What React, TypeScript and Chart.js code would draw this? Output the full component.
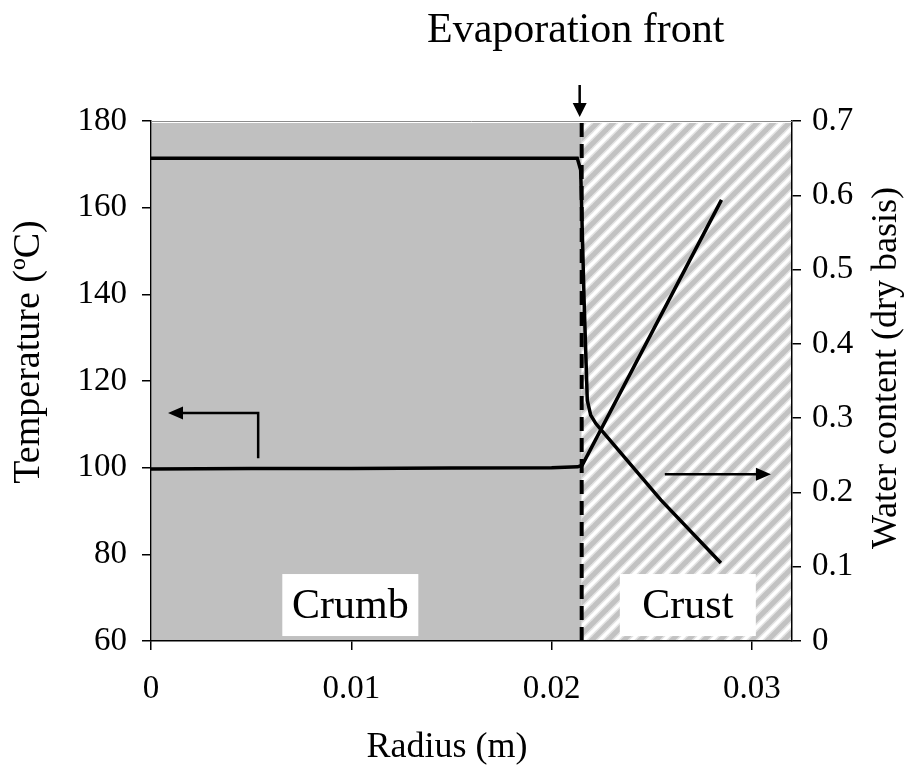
import React, { useEffect, useRef } from 'react';
import { Chart, registerables } from 'chart.js';

Chart.register(...registerables);

// ---- data ----
const radiusTemp = [0, 0.005, 0.01, 0.015, 0.02, 0.0213, 0.02153, 0.02848];
const temperature = [99.7, 99.8, 99.8, 99.9, 100.0, 100.2, 100.6, 161.8];

const radiusWater = [0, 0.02128, 0.02145, 0.02162, 0.02178, 0.02195, 0.0222, 0.02242, 0.02545, 0.02845];
const waterContent = [0.65, 0.65, 0.634, 0.459, 0.324, 0.304, 0.293, 0.286, 0.19, 0.105];

const frontRadius = 0.0215;

const xTickValues = [0, 0.01, 0.02, 0.03];
const xTickLabels = ['0', '0.01', '0.02', '0.03'];
const tempTickValues = [60, 80, 100, 120, 140, 160, 180];
const tempTickLabels = ['60', '80', '100', '120', '140', '160', '180'];
const waterTickValues = [0, 0.1, 0.2, 0.3, 0.4, 0.5, 0.6, 0.7];
const waterTickLabels = ['0', '0.1', '0.2', '0.3', '0.4', '0.5', '0.6', '0.7'];

// annotation arrows (data coordinates: radius, temperature)
const tempArrowRadius = [0.00535, 0.00535, 0.00085];
const tempArrowTemp = [102.2, 112.6, 112.6];
const waterArrowRadius = [0.02565, 0.03095];
const waterArrowTemp = [98.5, 98.5];

const regionLabels = ['Crumb', 'Crust'];
const regionLabelRadius = [0.00995, 0.0268];
const regionLabelTemp = [68.3, 68.3];

const FONT = '"Liberation Serif", "Times New Roman", serif';

function makeHatch(): CanvasPattern | string {
  const P = 16;
  const tile = document.createElement('canvas');
  tile.width = P;
  tile.height = P;
  const c = tile.getContext('2d');
  if (!c) return '#ddd';
  c.fillStyle = '#ffffff';
  c.fillRect(0, 0, P, P);
  const stripe = (w: number, col: string) => {
    c.strokeStyle = col;
    c.lineWidth = w;
    for (const o of [-P, 0, P]) {
      c.beginPath();
      c.moveTo(o - P, 2 * P);
      c.lineTo(o + 2 * P, -P);
      c.stroke();
    }
  };
  stripe(8, '#e3e3e3');
  stripe(5, '#c2c2c2');
  const ctx = document.createElement('canvas').getContext('2d');
  const pat = ctx ? ctx.createPattern(tile, 'repeat') : null;
  return pat || '#ddd';
}

function arrowHead(ctx: CanvasRenderingContext2D, x: number, y: number, dx: number, dy: number, len: number, half: number) {
  const L = Math.hypot(dx, dy) || 1;
  const ux = dx / L, uy = dy / L;
  ctx.beginPath();
  ctx.moveTo(x, y);
  ctx.lineTo(x - ux * len - uy * half, y - uy * len + ux * half);
  ctx.lineTo(x - ux * len + uy * half, y - uy * len - ux * half);
  ctx.closePath();
  ctx.fill();
}

export default function App() {
  const ref = useRef<HTMLCanvasElement | null>(null);

  useEffect(() => {
    document.body.style.margin = '0';
    const canvas = ref.current;
    if (!canvas) return;
    const hatch = makeHatch();

    const decor = {
      id: 'decor',
      beforeDatasetsDraw(chart: any) {
        const { ctx, chartArea: a, scales } = chart;
        const fx = scales.x.getPixelForValue(frontRadius);
        ctx.save();
        ctx.fillStyle = '#c0c0c0';
        ctx.fillRect(a.left + 1, a.top + 2, fx - a.left - 1, a.bottom - a.top - 3);
        ctx.fillStyle = hatch;
        ctx.fillRect(fx, a.top + 2, a.right - fx - 1, a.bottom - a.top - 3);
        ctx.strokeStyle = '#8c8c8c';
        ctx.lineWidth = 1;
        ctx.beginPath();
        ctx.moveTo(a.left, a.top + 0.5);
        ctx.lineTo(a.right, a.top + 0.5);
        ctx.stroke();
        ctx.restore();
      },
      afterDatasetsDraw(chart: any) {
        const { ctx, chartArea: a, scales } = chart;
        const X = (v: number) => scales.x.getPixelForValue(v);
        const Y = (v: number) => scales.y.getPixelForValue(v);
        ctx.save();
        ctx.strokeStyle = '#000';
        ctx.fillStyle = '#000';
        ctx.lineWidth = 2.5;
        ctx.lineCap = 'butt';

        // left (temperature) arrow
        const n = tempArrowRadius.length;
        ctx.beginPath();
        ctx.moveTo(X(tempArrowRadius[0]), Y(tempArrowTemp[0]));
        for (let i = 1; i < n - 1; i++) ctx.lineTo(X(tempArrowRadius[i]), Y(tempArrowTemp[i]));
        ctx.lineTo(X(tempArrowRadius[n - 1]) + 12, Y(tempArrowTemp[n - 1]));
        ctx.stroke();
        arrowHead(ctx, X(tempArrowRadius[n - 1]), Y(tempArrowTemp[n - 1]), -1, 0, 15, 6.5);

        // right (water) arrow
        ctx.beginPath();
        ctx.moveTo(X(waterArrowRadius[0]), Y(waterArrowTemp[0]));
        ctx.lineTo(X(waterArrowRadius[1]) - 12, Y(waterArrowTemp[1]));
        ctx.stroke();
        arrowHead(ctx, X(waterArrowRadius[1]), Y(waterArrowTemp[1]), 1, 0, 15, 6.5);

        // region label boxes
        ctx.font = `42px ${FONT}`;
        ctx.textAlign = 'center';
        ctx.textBaseline = 'middle';
        regionLabels.forEach((t, i) => {
          const cx = X(regionLabelRadius[i]);
          const cy = Y(regionLabelTemp[i]);
          ctx.fillStyle = '#fff';
          ctx.fillRect(cx - 68, cy - 31, 136, 62);
          ctx.fillStyle = '#000';
          ctx.fillText(t, cx, cy + 2);
        });

        // evaporation front arrow + label
        const fx = X(frontRadius) - 2;
        ctx.lineWidth = 2.5;
        ctx.beginPath();
        ctx.moveTo(fx, a.top - 36);
        ctx.lineTo(fx, a.top - 12);
        ctx.stroke();
        arrowHead(ctx, fx, a.top - 4, 0, 1, 14, 7);
        ctx.font = `42px ${FONT}`;
        ctx.textBaseline = 'alphabetic';
        ctx.fillText('Evaporation front', fx - 4, 42);

        // axis titles
        ctx.font = `36px ${FONT}`;
        ctx.textBaseline = 'middle';
        ctx.fillText('Radius (m)', 447, 748);
        ctx.save();
        ctx.font = `38px ${FONT}`;
        ctx.translate(29, 352);
        ctx.rotate(-Math.PI / 2);
        ctx.fillText('Temperature (ºC)', 0, 0);
        ctx.restore();
        ctx.save();
        ctx.translate(887, 368);
        ctx.rotate(-Math.PI / 2);
        ctx.fillText('Water content (dry basis)', 0, 0);
        ctx.restore();
        ctx.restore();
      },
    };

    const tickFont = { family: FONT, size: 33 };
    const chart = new Chart(canvas, {
      type: 'line',
      data: {
        datasets: [
          {
            label: 'Temperature',
            data: radiusTemp.map((r, i) => ({ x: r, y: temperature[i] })),
            yAxisID: 'y',
            borderColor: '#000',
            borderWidth: 3.5,
            pointRadius: 0,
            tension: 0,
          },
          {
            label: 'Water content',
            data: radiusWater.map((r, i) => ({ x: r, y: waterContent[i] })),
            yAxisID: 'y1',
            borderColor: '#000',
            borderWidth: 3.5,
            pointRadius: 0,
            tension: 0,
          },
          {
            label: 'Evaporation front',
            data: [
              { x: frontRadius, y: tempTickValues[0] },
              { x: frontRadius, y: tempTickValues[tempTickValues.length - 1] },
            ],
            yAxisID: 'y',
            borderColor: '#000',
            borderWidth: 4,
            borderDash: [14, 7],
            pointRadius: 0,
          },
        ],
      },
      options: {
        responsive: false,
        animation: false,
        devicePixelRatio: 1,
        layout: { padding: { top: 121, left: 0, right: 0, bottom: 0 } },
        plugins: { legend: { display: false }, tooltip: { enabled: false } },
        scales: {
          x: {
            type: 'linear',
            position: 'bottom',
            min: 0,
            max: 0.032,
            afterBuildTicks: (s: any) => { s.ticks = xTickValues.map((v) => ({ value: v })); },
            afterFit: (s: any) => { s.height = 130; },
            grid: { drawOnChartArea: false, drawTicks: true, tickLength: 9, color: '#000', lineWidth: 1.5 },
            border: { display: true, color: '#000', width: 1.5 },
            ticks: {
              font: tickFont,
              color: '#000',
              padding: 20,
              maxRotation: 0,
              autoSkip: false,
              callback: (_v: any, i: number) => xTickLabels[i],
            },
          },
          y: {
            type: 'linear',
            position: 'left',
            min: 60,
            max: 180,
            afterBuildTicks: (s: any) => { s.ticks = tempTickValues.map((v) => ({ value: v })); },
            afterFit: (s: any) => { s.width = 151; },
            grid: { drawOnChartArea: false, drawTicks: true, tickLength: 9, color: '#000', lineWidth: 1.5 },
            border: { display: true, color: '#000', width: 1.5 },
            ticks: {
              font: tickFont,
              color: '#000',
              padding: 15,
              autoSkip: false,
              callback: (_v: any, i: number) => tempTickLabels[i],
            },
          },
          y1: {
            type: 'linear',
            position: 'right',
            min: 0,
            max: 0.7,
            afterBuildTicks: (s: any) => { s.ticks = waterTickValues.map((v) => ({ value: v })); },
            afterFit: (s: any) => { s.width = 121; },
            grid: { drawOnChartArea: false, drawTicks: true, tickLength: 9, color: '#000', lineWidth: 1.5 },
            border: { display: true, color: '#000', width: 1.5 },
            ticks: {
              font: tickFont,
              color: '#000',
              padding: 11,
              autoSkip: false,
              callback: (_v: any, i: number) => waterTickLabels[i],
            },
          },
        },
      },
      plugins: [decor],
    } as any);

    return () => chart.destroy();
  }, []);

  return (
    <div style={{ width: 913, height: 771, background: '#fff' }}>
      <canvas ref={ref} width={913} height={771} style={{ display: 'block' }} />
    </div>
  );
}
